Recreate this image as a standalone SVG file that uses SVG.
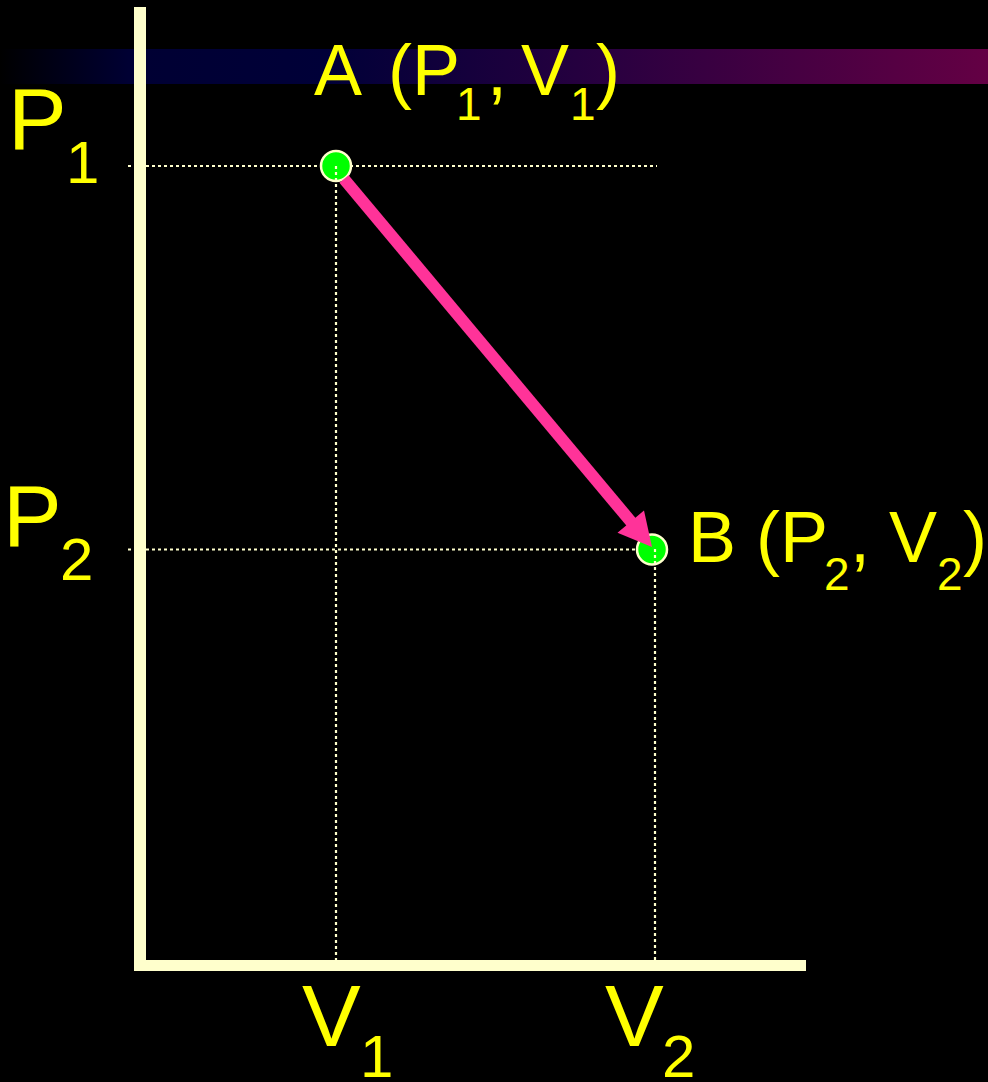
<svg xmlns="http://www.w3.org/2000/svg" width="988" height="1082" viewBox="0 0 988 1082">
  <defs>
    <linearGradient id="band" x1="0" y1="0" x2="988" y2="0" gradientUnits="userSpaceOnUse">
      <stop offset="0" stop-color="#000000"/>
      <stop offset="0.13" stop-color="#000033"/>
      <stop offset="0.33" stop-color="#000038"/>
      <stop offset="0.62" stop-color="#2a0040"/>
      <stop offset="1" stop-color="#640044"/>
    </linearGradient>
    <style>
      .axis { fill: #FFFFCC; }
      .dot { stroke: #FFFFCC; stroke-width: 2.2; stroke-dasharray: 3 3; fill: none; }
      .pt { fill: #00FF00; stroke: #FFFFCC; stroke-width: 2.5; }
      .lbl { font-family: "Liberation Sans", Arial, sans-serif; fill: #FFFF00; }
      .big { font-size: 88px; }
      .mid { font-size: 72px; }
      .sub { font-size: 60px; }
      .sub2 { font-size: 46px; }
    </style>
  </defs>
  <rect x="0" y="0" width="988" height="1082" fill="#000000"/>
  <rect x="0" y="49" width="988" height="35" fill="url(#band)"/>

  <g id="axes">
    <rect class="axis" x="134" y="7" width="12" height="964"/>
    <rect class="axis" x="134" y="960" width="672" height="11"/>
  </g>

  <g id="guides">
    <line class="dot" x1="128" y1="166" x2="657" y2="166"/>
    <line class="dot" x1="128" y1="549.5" x2="655" y2="549.5"/>
  </g>

  <g id="node-A">
    <circle class="pt" cx="336" cy="166" r="15"/>
    <text class="lbl mid" y="95"><tspan x="314">A</tspan><tspan x="388">(</tspan><tspan x="412">P</tspan><tspan class="sub2" x="456" y="120">1</tspan><tspan x="487" y="95">,</tspan><tspan x="521">V</tspan><tspan class="sub2" x="570" y="120">1</tspan><tspan x="596" y="95">)</tspan></text>
  </g>

  <g id="node-B">
    <circle class="pt" cx="652" cy="549.5" r="15"/>
    <text class="lbl mid" y="562"><tspan x="688">B</tspan><tspan x="756">(</tspan><tspan x="780">P</tspan><tspan class="sub2" x="824" y="590">2</tspan><tspan x="850" y="562">,</tspan><tspan x="889">V</tspan><tspan class="sub2" x="937" y="590">2</tspan><tspan x="963" y="562">)</tspan></text>
  </g>

  <g id="guides-v">
    <line class="dot" x1="336" y1="166" x2="336" y2="960"/>
    <line class="dot" x1="655" y1="549" x2="655" y2="960"/>
  </g>

  <g id="connectors">
    <line x1="344" y1="179" x2="632" y2="523" stroke="#FF3399" stroke-width="12"/>
    <polygon points="652,547 617.5,532.8 644,510.6" fill="#FF3399"/>
  </g>

  <g id="axis-labels">
    <text class="lbl big" y="149"><tspan x="8">P</tspan><tspan class="sub" x="66" y="183">1</tspan></text>
    <text class="lbl big" y="546"><tspan x="3">P</tspan><tspan class="sub" x="60" y="580">2</tspan></text>
    <text class="lbl big" y="1046"><tspan x="302">V</tspan><tspan class="sub" x="360" y="1077">1</tspan></text>
    <text class="lbl big" y="1046"><tspan x="605">V</tspan><tspan class="sub" x="662" y="1077">2</tspan></text>
  </g>
</svg>
